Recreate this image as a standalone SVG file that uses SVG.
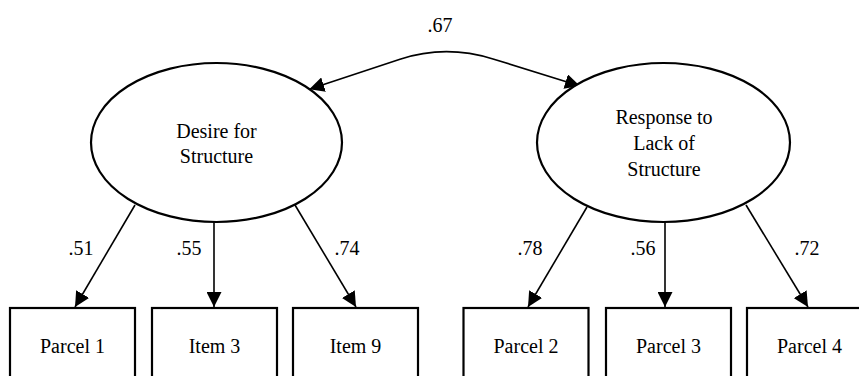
<svg xmlns="http://www.w3.org/2000/svg" width="859" height="376" viewBox="0 0 859 376" font-family="'Liberation Serif', 'Times New Roman', Times, serif">
<style>
text{font-family:'Liberation Serif','Times New Roman',Times,serif;font-size:20px;fill:#000;text-anchor:middle}
.lat{fill:#fff;stroke:#000;stroke-width:2.2}
.box{fill:#fff;stroke:#000;stroke-width:2.2}
.con{fill:none;stroke:#000;stroke-width:1.6}
</style>
<defs>
<marker id="ah" markerUnits="userSpaceOnUse" markerWidth="15" markerHeight="15" refX="14" refY="7" orient="auto-start-reverse" viewBox="0 0 14 14">
<path d="M0,0 L14,7 L0,14 z" fill="#000"/>
</marker>
</defs>
<g id="connectors">
<path class="con" d="M309.3,89.3 L400,59.2 C430.5,49.1 461.2,49 493,58.9 L580,86" marker-start="url(#ah)" marker-end="url(#ah)"/>
<text x="440" y="32">.67</text>
<line class="con" x1="135" y1="205" x2="75" y2="307" marker-end="url(#ah)"/>
<line class="con" x1="214" y1="221" x2="214" y2="307" marker-end="url(#ah)"/>
<line class="con" x1="295" y1="205" x2="356" y2="307" marker-end="url(#ah)"/>
<line class="con" x1="587" y1="207" x2="528" y2="307" marker-end="url(#ah)"/>
<line class="con" x1="665" y1="221" x2="665" y2="307" marker-end="url(#ah)"/>
<line class="con" x1="746" y1="205" x2="808" y2="307" marker-end="url(#ah)"/>
<text x="81" y="255">.51</text>
<text x="189" y="255">.55</text>
<text x="347" y="255">.74</text>
<text x="530" y="255">.78</text>
<text x="643" y="255">.56</text>
<text x="807" y="255">.72</text>
</g>
<g id="desire">
<ellipse class="lat" cx="216.5" cy="142.5" rx="125.5" ry="79.5"/>
<text x="216.5" y="138">Desire for</text>
<text x="216.5" y="163">Structure</text>
</g>
<g id="response">
<ellipse class="lat" cx="663.5" cy="142.5" rx="126.5" ry="79.5"/>
<text x="664" y="124">Response to</text>
<text x="664" y="150">Lack of</text>
<text x="664" y="176">Structure</text>
</g>
<g id="parcel1">
<rect class="box" x="10" y="308" width="125" height="90"/>
<text x="72.5" y="353">Parcel 1</text>
</g>
<g id="item3">
<rect class="box" x="152" y="308" width="125" height="90"/>
<text x="214.5" y="353">Item 3</text>
</g>
<g id="item9">
<rect class="box" x="293" y="308" width="125" height="90"/>
<text x="355.5" y="353">Item 9</text>
</g>
<g id="parcel2">
<rect class="box" x="463.5" y="308" width="125" height="90"/>
<text x="526" y="353">Parcel 2</text>
</g>
<g id="parcel3">
<rect class="box" x="606" y="308" width="125" height="90"/>
<text x="668.5" y="353">Parcel 3</text>
</g>
<g id="parcel4">
<rect class="box" x="747" y="308" width="125" height="90"/>
<text x="809.5" y="353">Parcel 4</text>
</g>
</svg>
